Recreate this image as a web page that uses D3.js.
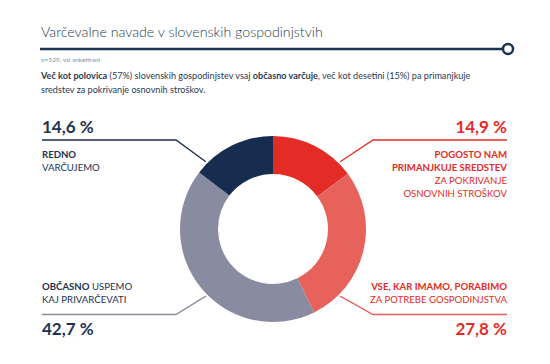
<!DOCTYPE html>
<html lang="sl">
<head>
<meta charset="UTF-8">
<title>Varčevalne navade v slovenskih gospodinjstvih</title>
<script src="https://cdnjs.cloudflare.com/ajax/libs/d3/7.8.5/d3.min.js"></script>
<style>
  html, body { margin: 0; padding: 0; background: #fff; }
  svg { display: block; font-family: Lato, "Open Sans", sans-serif; }
</style>
</head>
<body>
<svg id="chart" width="550" height="364"></svg>
<script>
  // slices, clockwise from 12 o'clock
  const categories = ["pogosto", "vse", "obcasno", "redno"];
  const values = [14.9, 27.8, 42.7, 14.6];
  const valueLabels = ["14,9 %", "27,8 %", "42,7 %", "14,6 %"];
  const colors = ["#e32c25", "#e8625c", "#898ba1", "#172d4f"];
  // label lines: [bold part, normal part] per row
  const labelRows = [
    [["POGOSTO NAM", ""], ["PRIMANJKUJE SREDSTEV", ""], ["", "ZA POKRIVANJE"], ["", "OSNOVNIH STROŠKOV"]],
    [["VSE, KAR IMAMO, PORABIMO", ""], ["", "ZA POTREBE GOSPODINJSTVA"]],
    [["OBČASNO", " USPEMO"], ["", "KAJ PRIVARČEVATI"]],
    [["REDNO", ""], ["", "VARČUJEMO"]]
  ];

  const svg = d3.select("#chart");
  const navy = "#1d3352";

  // header
  svg.append("text")
    .attr("x", 41).attr("y", 37)
    .attr("font-size", 14.2).attr("font-weight", 300)
    .attr("fill", "#2b3a52")
    .text("Varčevalne navade v slovenskih gospodinjstvih");
  svg.append("line")
    .attr("x1", 40).attr("x2", 503).attr("y1", 49).attr("y2", 49)
    .attr("stroke", navy).attr("stroke-width", 2.5);
  svg.append("circle")
    .attr("cx", 508).attr("cy", 49).attr("r", 5)
    .attr("fill", "#fff").attr("stroke", navy).attr("stroke-width", 2.5);
  svg.append("text")
    .attr("x", 41).attr("y", 62)
    .attr("font-size", 6.5).attr("fill", "#8a8f9c")
    .text("n=529, vsi anketirani");

  const para = svg.append("g").attr("font-size", 9.1).attr("fill", "#2b3a52");
  const p1 = para.append("text").attr("x", 41).attr("y", 79);
  p1.append("tspan").attr("font-weight", 700).text("Več kot polovica");
  p1.append("tspan").text(" (57%) slovenskih gospodinjstev vsaj ");
  p1.append("tspan").attr("font-weight", 700).text("občasno varčuje");
  p1.append("tspan").text(", več kot desetini (15%) pa primanjkuje");
  para.append("text").attr("x", 41).attr("y", 93)
    .text("sredstev za pokrivanje osnovnih stroškov.");

  // donut
  const cx = 273, cy = 229, rOuter = 93, rInner = 55;
  const pie = d3.pie().sort(null).value(d => d);
  const arcs = pie(values);
  const arc = d3.arc().innerRadius(rInner).outerRadius(rOuter);

  const g = svg.append("g").attr("transform", `translate(${cx},${cy})`);
  g.selectAll("path").data(arcs).join("path")
    .attr("d", arc)
    .attr("fill", (d, i) => colors[i]);

  // label layout per slice: side, top or bottom block
  const layout = [
    { side: "right", top: true },
    { side: "right", top: false },
    { side: "left", top: false },
    { side: "left", top: true }
  ];
  const xLeft = 42, xRight = 507, elbowL = 176, elbowR = 373;
  const rLine = 95, rowH = 13;

  arcs.forEach((a, i) => {
    const L = layout[i];
    const col = colors[i];
    const textCol = L.side === "left" ? navy : colors[0];
    const anchor = L.side === "right" ? "end" : "start";
    const xT = L.side === "right" ? xRight : xLeft;
    const xE = L.side === "right" ? elbowR : elbowL;
    const lineY = L.top ? 140 : 314.5;
    const ang = (L.side === "right" ? 1 : -1) * (L.top ? Math.PI / 4 : 3 * Math.PI / 4);
    const px = cx + rLine * Math.sin(ang), py = cy - rLine * Math.cos(ang);

    svg.append("polyline")
      .attr("points", `${xT},${lineY} ${xE},${lineY} ${px},${py}`)
      .attr("fill", "none").attr("stroke", col).attr("stroke-width", 1.3);

    svg.append("text")
      .attr("x", xT).attr("y", L.top ? 133 : 335)
      .attr("text-anchor", anchor)
      .attr("font-size", 17).attr("font-weight", 700)
      .attr("fill", textCol)
      .text(valueLabels[i]);

    const rows = labelRows[i];
    const y0 = L.top ? 158 : 303 - rowH * (rows.length - 1);
    rows.forEach((r, k) => {
      const t = svg.append("text")
        .attr("x", xT).attr("y", y0 + k * rowH)
        .attr("text-anchor", anchor)
        .attr("font-size", 9.6)
        .attr("fill", textCol);
      if (r[0]) t.append("tspan").attr("font-weight", 700).text(r[0]);
      if (r[1]) t.append("tspan").text(r[1]);
    });
  });
</script>
</body>
</html>
